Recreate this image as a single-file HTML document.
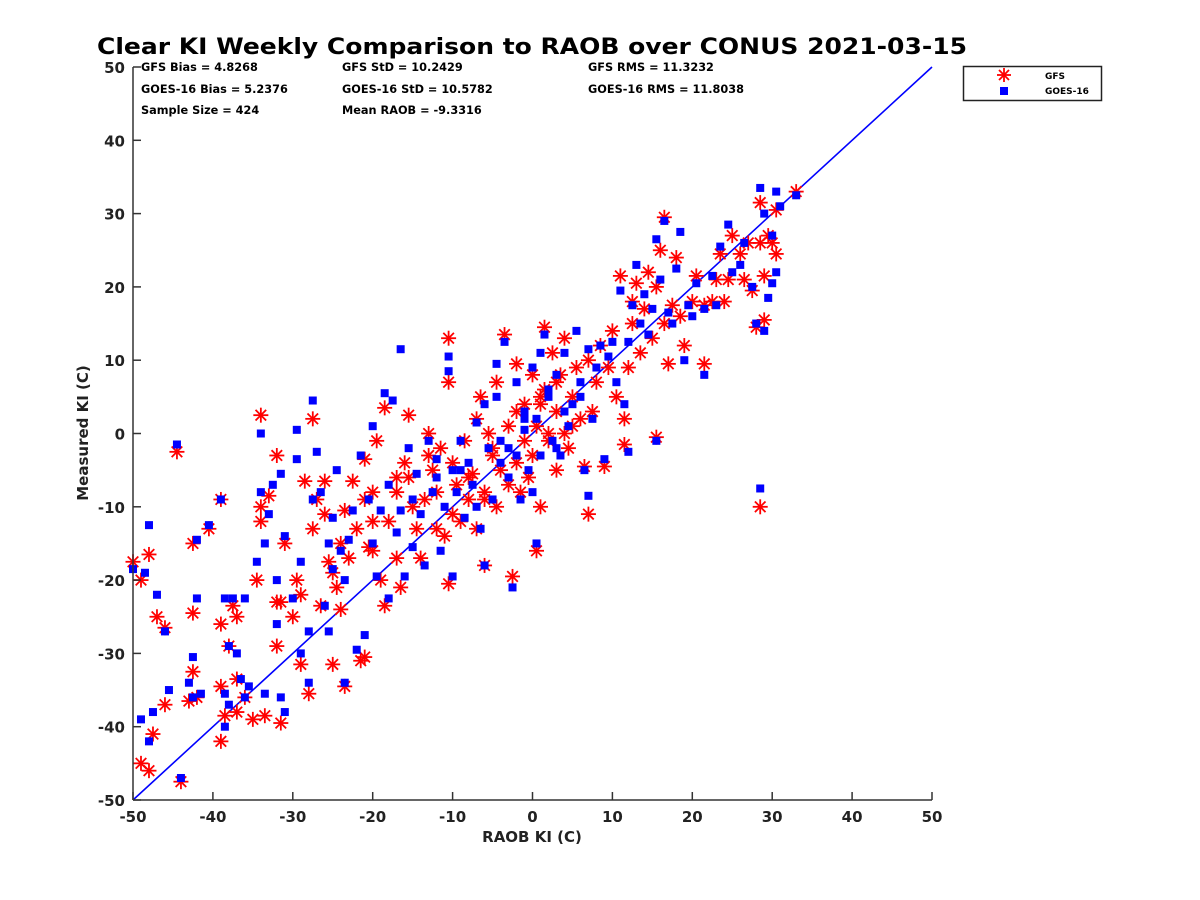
<!DOCTYPE html>
<html><head><meta charset="utf-8"><style>
html,body{margin:0;padding:0;background:#fff;}
svg{display:block;font-family:"DejaVu Sans","Liberation Sans",sans-serif;}
</style></head><body>
<svg id="chart" width="1200" height="900" viewBox="0 0 1200 900" xmlns="http://www.w3.org/2000/svg">
<rect width="1200" height="900" fill="#fff"/>
<text x="532" y="54" text-anchor="middle" font-size="22" font-weight="bold" fill="#000" textLength="870" lengthAdjust="spacingAndGlyphs">Clear KI Weekly Comparison to RAOB over CONUS 2021-03-15</text>
<g font-size="11.3" font-weight="bold" fill="#000">
<text x="141" y="71">GFS Bias = 4.8268</text>
<text x="141" y="93">GOES-16 Bias = 5.2376</text>
<text x="141" y="114">Sample Size = 424</text>
<text x="342" y="71">GFS StD = 10.2429</text>
<text x="342" y="93">GOES-16 StD = 10.5782</text>
<text x="342" y="114">Mean RAOB = -9.3316</text>
<text x="588" y="71">GFS RMS = 11.3232</text>
<text x="588" y="93">GOES-16 RMS = 11.8038</text>
</g>
<g id="plot"></g>
<g id="axes"></g>
<g>
<rect x="963.5" y="66.5" width="138" height="34" fill="#fff" stroke="#222" stroke-width="1.5"/>
<g stroke="#f00" stroke-width="1.8">
<line x1="1004" y1="68" x2="1004" y2="82"/><line x1="997" y1="75" x2="1011" y2="75"/>
<line x1="999" y1="70" x2="1009" y2="80"/><line x1="999" y1="80" x2="1009" y2="70"/>
</g>
<text x="1045" y="79" font-size="9" font-weight="bold">GFS</text>
<rect x="1000" y="87" width="8" height="8" fill="#00f"/>
<text x="1045" y="94" font-size="9" font-weight="bold">GOES-16</text>
</g>
</svg>
<script>
const xTicks=[-50,-40,-30,-20,-10,0,10,20,30,40,50];
const yTicks=[-50,-40,-30,-20,-10,0,10,20,30,40,50];
const gfsX=[-50,-49,-48,-49,-48,-47.5,-47,-46,-46,-44.5,-44,-43,-42.5,-42.5,-42.5,-42,-40.5,-39,-39,-39,-39,-38.5,-38,-37.5,-37,-37,-37,-36,-35,-34.5,-34,-34,-34,-33.5,-33,-32,-32,-32,-31.5,-31.5,-31,-30,-29.5,-29,-29,-28.5,-28,-27.5,-27.5,-27,-26.5,-26,-26,-25.5,-25,-25,-24.5,-24,-24,-23.5,-23.5,-23,-22.5,-22,-21.5,-21,-21,-21,-20.5,-20,-20,-20,-19.5,-19,-18.5,-18.5,-18,-17,-17,-16.5,-16,-15.5,-15.5,-15,-14.5,-14,-13.5,-13,-12.5,-12,-12,-11.5,-11,-10.5,-10.5,-10.5,-10,-10,-9.5,-9,-8.5,-8,-7.5,-7,-7,-6.5,-6,-6,-5.5,-5,-4.5,-4.5,-4,-3.5,-3,-3,-2.5,-2,-2,-1.5,-1,-1,-0.5,0,0,0.5,0.5,1,1,1.5,1.5,2,2.5,3,3,3.5,4,4,4.5,5,5.5,6,6.5,7,7,7.5,8,8.5,9,9.5,10,10.5,11,11.5,11.5,12,12.5,12.5,13,13.5,14,14.5,15,15.5,15.5,16,16.5,16.5,17,17.5,18,18.5,19,20,20.5,21.5,21.5,22.5,23,23.5,24,24.5,25,26,26.5,27,27.5,28,28.5,28.5,28.5,29,29,29.5,30,30.5,30.5,33,-8,-5,-2,1,3,5,-13,-17,-6,2];
const gfsY=[-17.5,-20,-16.5,-45,-46,-41,-25,-26.5,-37,-2.5,-47.5,-36.5,-32.5,-24.5,-15,-36,-13,-9,-26,-34.5,-42,-38.5,-29,-23.5,-25,-33.5,-38,-36,-39,-20,2.5,-12,-10,-38.5,-8.5,-3,-23,-29,-23,-39.5,-15,-25,-20,-22,-31.5,-6.5,-35.5,2,-13,-9,-23.5,-6.5,-11,-17.5,-19,-31.5,-21,-15,-24,-34.5,-10.5,-17,-6.5,-13,-31,-30.5,-3.5,-9,-15.5,-16,-12,-8,-1,-20,-23.5,3.5,-12,-17,-8,-21,-4,2.5,-6,-10,-13,-17,-9,0,-5,-8,-13,-2,-14,13,7,-20.5,-11,-4,-7,-12,-1,-9,-5.5,2,-13,5,-18,-9,0,-3,7,-10,-5,13.5,-7,1,-19.5,9.5,-4,-8,4,-1,-6,-3,8,-16,1,-10,5,14.5,6,-1,11,3,-5,8,0,13,-2,5,9,2,-4.5,-11,10,3,7,12,-4.5,9,14,5,21.5,-1.5,2,9,18,15,20.5,11,17,22,13,-0.5,20,25,29.5,15,9.5,17.5,24,16,12,18,21.5,17.5,9.5,18,21,24.5,18,21,27,24.5,21,26,19.5,14.5,26,31.5,-10,15.5,21.5,27,26,24.5,30.5,33,-6,-2,3,4,7,1,-3,-6,-8,0];
const goesX=[-50,-49,-48.5,-48,-48,-47.5,-47,-46,-45.5,-44.5,-44,-43,-42.5,-42.5,-42,-42,-41.5,-40.5,-39,-38.5,-38.5,-38.5,-38,-38,-37.5,-37,-36.5,-36,-36,-35.5,-34.5,-34,-34,-33.5,-33.5,-33,-32.5,-32,-32,-31.5,-31.5,-31,-31,-30,-29.5,-29.5,-29,-29,-28,-28,-27.5,-27.5,-27,-26.5,-26,-25.5,-25.5,-25,-25,-24.5,-24,-23.5,-23.5,-23,-22.5,-22,-21.5,-21,-20.5,-20,-20,-19.5,-19,-18.5,-18,-18,-17.5,-17,-16.5,-16.5,-16,-15.5,-15,-14.5,-14,-13.5,-13,-12.5,-12,-11.5,-11,-10.5,-10.5,-10,-10,-9.5,-9,-8.5,-8,-7.5,-7,-6.5,-6,-6,-5.5,-5,-4.5,-4.5,-4,-3.5,-3,-3,-2.5,-2,-2,-1.5,-1,-1,-0.5,0,0,0.5,0.5,1,1,1.5,2,2.5,3,3.5,4,4.5,5,5.5,6,6.5,7,7,7.5,8,8.5,9,9.5,10,10.5,11,11.5,12,12,12.5,13,13.5,14,14.5,15,15.5,15.5,16,16.5,17,17.5,18,18.5,19,19.5,20,20.5,21.5,21.5,22.5,23,23.5,24.5,25,26,26.5,27.5,28,28.5,28.5,29,29,29.5,30,30,30.5,30.5,31,33,-9,-4,-1,2,4,-12,-15,-7,3,6];
const goesY=[-18.5,-39,-19,-12.5,-42,-38,-22,-27,-35,-1.5,-47,-34,-36,-30.5,-22.5,-14.5,-35.5,-12.5,-9,-22.5,-35.5,-40,-37,-29,-22.5,-30,-33.5,-22.5,-36,-34.5,-17.5,0,-8,-15,-35.5,-11,-7,-26,-20,-5.5,-36,-38,-14,-22.5,-3.5,0.5,-17.5,-30,-27,-34,4.5,-9,-2.5,-8,-23.5,-15,-27,-11.5,-18.5,-5,-16,-20,-34,-14.5,-10.5,-29.5,-3,-27.5,-9,-15,1,-19.5,-10.5,5.5,-22.5,-7,4.5,-13.5,-10.5,11.5,-19.5,-2,-15.5,-5.5,-11,-18,-1,-8,-3.5,-16,-10,10.5,8.5,-19.5,-5,-8,-1,-11.5,-4,-7,1.5,-13,4,-18,-2,-9,9.5,5,-4,12.5,-6,-2,-21,7,-3,-9,3,0.5,-5,-8,9,-15,2,11,-3,13.5,5,-1,8,-3,11,1,4,14,7,-5,-8.5,11.5,2,9,12,-3.5,10.5,12.5,7,19.5,4,-2.5,12.5,17.5,23,15,19,13.5,17,-1,26.5,21,29,16.5,15,22.5,27.5,10,17.5,16,20.5,8,17,21.5,17.5,25.5,28.5,22,23,26,20,15,33.5,-7.5,30,14,18.5,20.5,27,33,22,31,32.5,-5,-1,2,6,3,-6,-9,-10,-2,5];
const X0=133,X1=932,Y0=800,Y1=67;
const sx=v=>X0+(v+50)/100*(X1-X0);
const sy=v=>Y0-(v+50)/100*(Y0-Y1);
const NS='http://www.w3.org/2000/svg';
const plot=document.getElementById('plot'),axes=document.getElementById('axes');
function mk(tag,attrs,parent){const e=document.createElementNS(NS,tag);for(const k in attrs)e.setAttribute(k,attrs[k]);parent.appendChild(e);return e;}
const line=mk('line',{x1:sx(-50),y1:sy(-50),x2:sx(50),y2:sy(50),stroke:'#00f','stroke-width':1.6},plot);


for(let i=0;i<gfsX.length;i++){
  const cx=sx(gfsX[i]),cy=sy(gfsY[i]),r=7.5,d=5.3;
  const g=mk('g',{stroke:'#f00','stroke-width':1.8},plot);
  
  
  mk('line',{x1:cx,y1:cy-r,x2:cx,y2:cy+r},g);
  mk('line',{x1:cx-r,y1:cy,x2:cx+r,y2:cy},g);
  mk('line',{x1:cx-d,y1:cy-d,x2:cx+d,y2:cy+d},g);
  mk('line',{x1:cx-d,y1:cy+d,x2:cx+d,y2:cy-d},g);
}
for(let i=0;i<goesX.length;i++){
  const r=mk('rect',{x:sx(goesX[i])-4,y:sy(goesY[i])-4,width:8,height:8,fill:'#00f'},plot);
  
  
}
mk('line',{x1:X0,y1:Y0,x2:X1,y2:Y0,stroke:'#333','stroke-width':1.5},axes);
mk('line',{x1:X0,y1:Y0,x2:X0,y2:Y1,stroke:'#333','stroke-width':1.5},axes);
xTicks.forEach(v=>{
  mk('line',{x1:sx(v),y1:Y0,x2:sx(v),y2:Y0-8,stroke:'#333','stroke-width':1.5},axes);
  const t=mk('text',{x:sx(v),y:Y0+22,'text-anchor':'middle','font-size':15,'font-weight':'bold',fill:'#222'},axes);
  t.textContent=v;
  
  
});
yTicks.forEach(v=>{
  mk('line',{x1:X0,y1:sy(v),x2:X0+8,y2:sy(v),stroke:'#333','stroke-width':1.5},axes);
  const t=mk('text',{x:X0-8,y:sy(v)+6,'text-anchor':'end','font-size':15,'font-weight':'bold',fill:'#222'},axes);
  t.textContent=v;
  
  
});
const xt=mk('text',{x:532,y:842,'text-anchor':'middle','font-size':15,'font-weight':'bold',fill:'#222'},axes);
xt.textContent='RAOB KI (C)';


const yt=mk('text',{x:88,y:433,'text-anchor':'middle','font-size':15,'font-weight':'bold',fill:'#222',transform:'rotate(-90 88 433)'},axes);
yt.textContent='Measured KI (C)';


</script>
</body></html>
